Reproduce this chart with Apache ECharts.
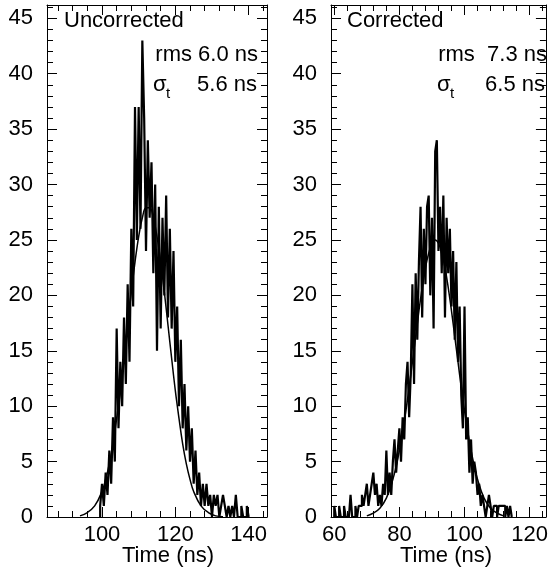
<!DOCTYPE html>
<html><head><meta charset="utf-8">
<script src="https://cdn.jsdelivr.net/npm/echarts@6/dist/echarts.min.js"></script>
<style>html,body{margin:0;padding:0;background:#fff}#c{width:551px;height:572px}</style>
</head><body><div id="c"></div>
<script>
// ---- data ----
const binWidth = 0.5;
const leftBinStart = 99.5;
const leftCounts = [1,3,1,4,2,6,3,9,5,17,8,14,10,18,12,21,14,26,19,37,25,37,26,43,36,24,34,27,32,22,30,15,28,17,27,20,29,18,26,17,24,14,19,10,16,8,12,6,10,5,8,3,6,2,4,1,3,1,3,1,2,0,2,1,2,0,1,2,1,0,1,0,1,0,2,0,0,1,0,0,1];
const rightBinStart = 60.0;
const rightCounts = [1,0,0,1,0,0,1,0,0,0,2,0,0,1,0,1,1,2,1,2,3,1,2,3,4,2,3,1,2,1,3,2,6,2,4,2,5,7,4,6,8,5,9,7,12,14,9,13,21,12,22,16,23,28,18,26,21,28,29,20,27,17,33,34,24,28,22,29,18,27,22,26,19,24,16,23,14,19,11,8,19,7,9,4,7,3,5,4,2,3,1,2,1,0,1,2,1,0,1,1,0,1,1,1,1,0,1,0,1];
const leftFitX = [94,96,98,100,101,102,103,104,105,106,107,108,109,110,111,112,113,114,115,116,117,118,119,120,121,122,123,124,125,127,129,131,133];
const leftFitY = [0.1,0.4,1.0,2.3,3.4,4.8,6.6,8.9,11.4,14.3,17.3,20.3,23.0,25.3,27.0,27.9,27.9,27.0,25.3,23.0,20.3,17.3,14.3,11.4,8.9,6.6,4.8,3.4,2.3,1.0,0.4,0.1,0.03];
const rightFitX = [70,72,74,76,78,79,80,81,82,83,84,85,86,87,88,89,90,91,92,93,94,95,96,97,98,99,100,101,102,103,104,106,108,110,112];
const rightFitY = [0.1,0.35,0.8,1.7,3.4,4.6,6.0,7.7,9.6,11.7,14.0,16.3,18.6,20.7,22.5,23.8,24.7,25.0,24.7,23.8,22.5,20.7,18.6,16.3,14.0,11.7,9.6,7.7,6.0,4.6,3.4,1.7,0.8,0.35,0.1];
const yRange = [0, 46.2];
const leftRange = [85, 145];
const rightRange = [59, 125];
const yMajor = [0,5,10,15,20,25,30,35,40,45];
const yMinor = [1,2,3,4,6,7,8,9,11,12,13,14,16,17,18,19,21,22,23,24,26,27,28,29,31,32,33,34,36,37,38,39,41,42,43,44,46];
const leftXMajor = [100,120,140];
const leftXMinor = [88,92,96,104,108,112,116,124,128,132,136,144];
const rightXMajor = [60,80,100,120];
const rightXMinor = [64,68,72,76,84,88,92,96,104,108,112,116,124];

// ---- build ----
const FONT = '"Liberation Sans", Arial, Helvetica, sans-serif';
const FS = 22;
function histPoints(start, counts) {
  const pts = [[start, 0]];
  counts.forEach((c, i) => pts.push([start + i * binWidth, c]));
  const end = start + counts.length * binWidth;
  pts.push([end, counts[counts.length - 1]]);
  pts.push([end, 0]);
  return pts;
}
function zip(a, b) { return a.map((v, i) => [v, b[i]]); }

const grids = [
  {left: 47, top: 5, width: 220, height: 512},
  {left: 331, top: 5, width: 218, height: 512}
];
const xAxes = [], yAxes = [];
function axisSet(list, dim, gi, range, major, minor, withLabels) {
  const posA = dim === 'x' ? 'bottom' : 'left';
  const posB = dim === 'x' ? 'top' : 'right';
  const mk = (pos, vals, len, labels, line) => ({
    type: 'value', gridIndex: gi, position: pos, min: range[0], max: range[1],
    splitLine: {show: false},
    axisLine: {show: line, onZero: false, lineStyle: {color: '#000', width: 1}},
    axisTick: {show: true, inside: true, length: len, customValues: vals, lineStyle: {color: '#000', width: 1}},
    axisLabel: labels ? {show: true, customValues: vals, color: '#000', fontSize: FS, fontFamily: FONT,
      margin: dim === 'x' ? 7 : 14} : {show: false}
  });
  list.push(mk(posA, major, 10, withLabels, true));
  list.push(mk(posA, minor, 6, false, false));
  list.push(mk(posB, major, 10, false, true));
  list.push(mk(posB, minor, 6, false, false));
}
axisSet(xAxes, 'x', 0, leftRange, leftXMajor, leftXMinor, true);
axisSet(yAxes, 'y', 0, yRange, yMajor, yMinor, true);
axisSet(xAxes, 'x', 1, rightRange, rightXMajor, rightXMinor, true);
axisSet(yAxes, 'y', 1, yRange, yMajor, yMinor, true);

const lineBase = {type: 'line', symbol: 'none', animation: false, silent: true};
const series = [
  Object.assign({}, lineBase, {xAxisIndex: 0, yAxisIndex: 0, step: 'end', data: histPoints(leftBinStart, leftCounts), lineStyle: {color: '#000', width: 2.2}}),
  Object.assign({}, lineBase, {xAxisIndex: 0, yAxisIndex: 0, smooth: 0.4, data: zip(leftFitX, leftFitY), lineStyle: {color: '#000', width: 1.5}}),
  Object.assign({}, lineBase, {xAxisIndex: 4, yAxisIndex: 4, step: 'end', data: histPoints(rightBinStart, rightCounts), lineStyle: {color: '#000', width: 2.2}}),
  Object.assign({}, lineBase, {xAxisIndex: 4, yAxisIndex: 4, smooth: 0.4, data: zip(rightFitX, rightFitY), lineStyle: {color: '#000', width: 1.5}})
];

function txt(x, y, s, size, align) {
  return {type: 'text', x: x, y: y, silent: true, z: 100,
    style: {text: s, fontSize: size, fontFamily: FONT, fill: '#000', align: align || 'left', verticalAlign: 'middle'}};
}
const graphic = [
  txt(64, 21, 'Uncorrected', FS),
  txt(258, 55, 'rms 6.0 ns', FS, 'right'),
  txt(153, 85, 'σ', FS), txt(166, 94, 't', 15), txt(257, 85, '5.6 ns', FS, 'right'),
  txt(347, 21, 'Corrected', FS),
  txt(547, 55, 'rms  7.3 ns', FS, 'right'),
  txt(437, 85, 'σ', FS), txt(450, 94, 't', 15), txt(545, 85, '6.5 ns', FS, 'right'),
  txt(168, 556, 'Time (ns)', FS, 'center'),
  txt(446, 556, 'Time (ns)', FS, 'center')
];

const chart = echarts.init(document.getElementById('c'), null, {renderer: 'canvas'});
chart.setOption({
  animation: false,
  backgroundColor: '#fff',
  textStyle: {fontFamily: FONT},
  grid: grids,
  xAxis: xAxes,
  yAxis: yAxes,
  series: series,
  graphic: graphic
});
</script></body></html>
